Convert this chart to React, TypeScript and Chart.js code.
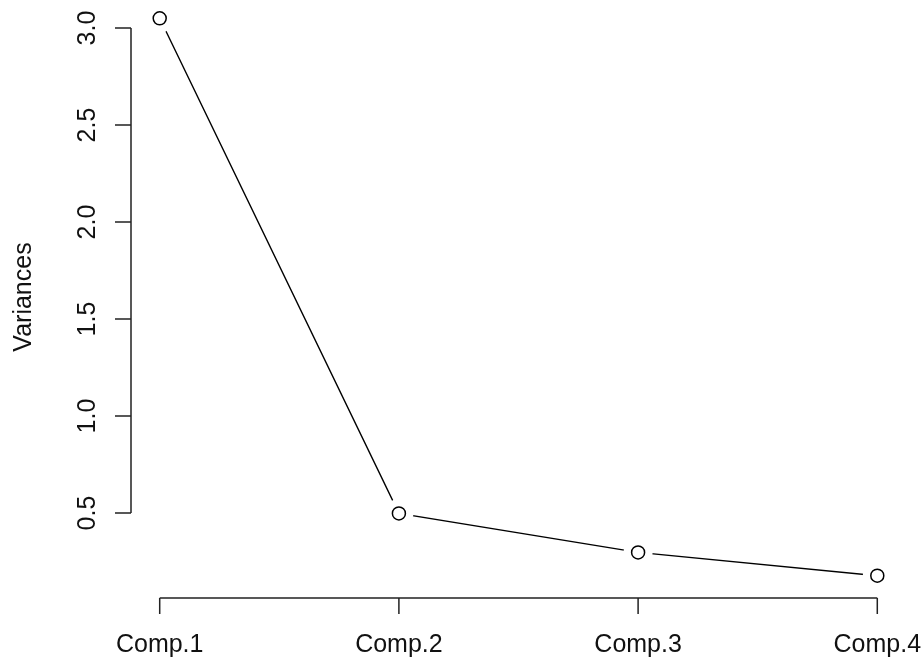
import React, { useEffect, useRef } from "react";
import { Chart, registerables } from "chart.js";

Chart.register(...registerables);

const categories = ["Comp.1", "Comp.2", "Comp.3", "Comp.4"];
const positions = [1, 2, 3, 4];
const variances = [3.05, 0.498, 0.297, 0.177];
const yTicks = [0.5, 1.0, 1.5, 2.0, 2.5, 3.0];
const yTitle = "Variances";

const FONT = '25px "Liberation Sans", Arial, Helvetica, sans-serif';
const INK = "#111";

const axesPlugin = {
  id: "rAxes",
  afterDraw(chart: any) {
    const ctx = chart.ctx as CanvasRenderingContext2D;
    const xs = chart.scales.x;
    const ys = chart.scales.y;
    const area = chart.chartArea;
    ctx.save();
    ctx.strokeStyle = "#222";
    ctx.lineWidth = 1.5;
    ctx.fillStyle = INK;
    ctx.font = FONT;

    // y axis
    const ax = area.left;
    const yTop = ys.getPixelForValue(yTicks[yTicks.length - 1]);
    const yBot = ys.getPixelForValue(yTicks[0]);
    ctx.beginPath();
    ctx.moveTo(ax, yTop);
    ctx.lineTo(ax, yBot);
    yTicks.forEach((v) => {
      const py = ys.getPixelForValue(v);
      ctx.moveTo(ax, py);
      ctx.lineTo(ax - 16, py);
    });
    ctx.stroke();
    yTicks.forEach((v) => {
      const py = ys.getPixelForValue(v);
      ctx.save();
      ctx.translate(ax - 43, py);
      ctx.rotate(-Math.PI / 2);
      ctx.textAlign = "center";
      ctx.textBaseline = "middle";
      ctx.fillText(v.toFixed(1), 0, 0);
      ctx.restore();
    });

    // y title
    ctx.save();
    ctx.translate(24, (area.top + area.bottom) / 2);
    ctx.rotate(-Math.PI / 2);
    ctx.textAlign = "center";
    ctx.textBaseline = "middle";
    ctx.fillText(yTitle, 0, 0);
    ctx.restore();

    // x axis
    const by = area.bottom;
    const xL = xs.getPixelForValue(positions[0]);
    const xR = xs.getPixelForValue(positions[positions.length - 1]);
    ctx.beginPath();
    ctx.moveTo(xL, by);
    ctx.lineTo(xR, by);
    positions.forEach((p) => {
      const px = xs.getPixelForValue(p);
      ctx.moveTo(px, by);
      ctx.lineTo(px, by + 16);
    });
    ctx.stroke();
    positions.forEach((p, i) => {
      const px = xs.getPixelForValue(p);
      ctx.textAlign = "center";
      ctx.textBaseline = "middle";
      ctx.fillText(categories[i], px, by + 47);
    });
    ctx.restore();
  },
};

export default function App() {
  const ref = useRef<HTMLCanvasElement | null>(null);
  useEffect(() => {
    if (!ref.current) return;
    const pts = positions.map((x, i) => ({ x, y: variances[i] }));
    const chart = new Chart(ref.current, {
      type: "scatter",
      data: {
        datasets: [
          {
            data: pts,
            showLine: false,
            pointRadius: 6.5,
            pointBorderWidth: 1.5,
            pointBackgroundColor: "#fff",
            pointBorderColor: "#000",
          },
          {
            data: pts,
            showLine: true,
            borderColor: "#000",
            borderWidth: 1.4,
            pointRadius: 14.5,
            pointBorderWidth: 0,
            pointBackgroundColor: "#fff",
            pointBorderColor: "rgba(0,0,0,0)",
          },
        ],
      },
      options: {
        animation: false,
        responsive: false,
        layout: { autoPadding: false, padding: { left: 131, right: 18, top: 0, bottom: 64 } },
        plugins: { legend: { display: false }, tooltip: { enabled: false } },
        events: [],
        scales: {
          x: { type: "linear", min: 0.88, max: 4.12, display: false },
          y: { type: "linear", min: 0.062, max: 3.165, display: false },
        },
      },
      plugins: [axesPlugin],
    });
    return () => chart.destroy();
  }, []);
  return (
    <div style={{ position: "fixed", left: 0, top: -4, width: 924, height: 666, background: "#fff" }}>
      <canvas ref={ref} width={924} height={666} style={{ display: "block" }} />
    </div>
  );
}
